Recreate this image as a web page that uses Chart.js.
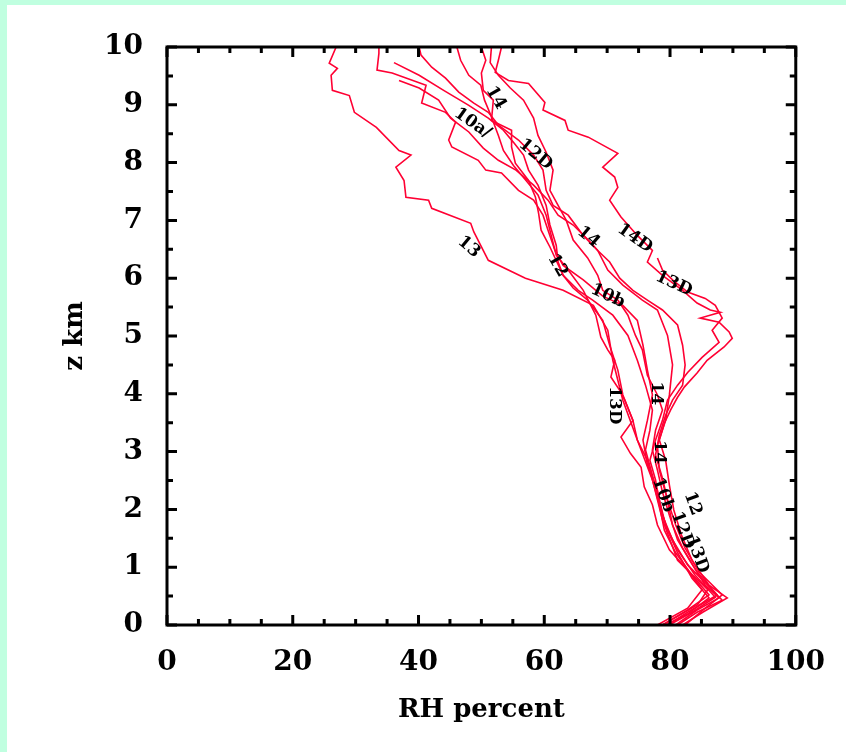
<!DOCTYPE html>
<html>
<head>
<meta charset="utf-8">
<script src="https://cdn.jsdelivr.net/npm/chart.js@4.4.1/dist/chart.umd.min.js"></script>
<style>
  html, body { margin: 0; padding: 0; background: #c0ffe0; }
  #wrap { width: 846px; height: 752px; }
</style>
</head>
<body>
<div id="wrap"><canvas id="rhChart" width="846" height="752"></canvas></div>
<script>
// RH profiles, z (km) and RH (percent)
const z13 = [10.0, 9.72, 9.63, 9.51, 9.25, 9.16, 8.87, 8.61, 8.21, 8.13, 7.92, 7.69, 7.40, 7.35, 7.21, 6.95, 6.80, 6.31, 6.00, 5.79, 5.53, 5.10, 4.58, 3.89, 3.20, 2.51, 1.82, 1.12, 0.61, 0.35, 0];
const rh13 = [26.9, 25.8, 27.1, 26.1, 26.3, 29.0, 29.8, 33.3, 36.9, 38.8, 36.4, 37.7, 38.0, 41.6, 42.1, 48.3, 48.8, 51.1, 57.0, 63.0, 67.8, 70.1, 70.9, 72.5, 74.8, 77.2, 78.8, 81.2, 86.0, 84.4, 78.8];

const z10a = [10.0, 9.89, 9.60, 9.55, 9.34, 9.03, 8.87, 8.70, 8.39, 8.27, 8.04, 7.87, 7.82, 7.52, 7.35, 7.09, 6.83, 6.48, 6.22, 5.97, 5.69, 5.53, 5.27, 4.84, 4.41, 3.98, 3.54, 3.20, 2.77, 2.33, 1.90, 1.47, 1.04, 0.61, 0.43, 0.22, 0];
const rh10a = [33.7, 33.7, 33.4, 35.8, 41.2, 40.5, 44.3, 45.9, 44.8, 45.3, 49.5, 50.7, 53.2, 55.9, 58.3, 59.8, 60.6, 61.7, 63.0, 66.2, 69.3, 72.5, 74.8, 75.7, 76.4, 77.2, 76.4, 75.7, 76.4, 78.0, 78.8, 80.4, 82.8, 86.7, 88.3, 84.3, 81.2];

const z12D = [10.0, 9.86, 9.65, 9.46, 9.22, 9.03, 8.87, 8.65, 8.39, 8.13, 7.87, 7.52, 7.26, 7.09, 6.74, 6.48, 6.14, 5.88, 5.62, 5.45, 5.01, 4.50, 3.98, 3.54, 3.11, 2.68, 2.16, 1.73, 1.33, 0.92, 0.52, 0.22, 0];
const rh12D = [40.1, 40.4, 42.1, 44.3, 46.4, 48.8, 51.1, 52.7, 55.9, 58.3, 59.8, 60.3, 61.4, 63.8, 66.2, 68.5, 70.1, 72.5, 75.6, 78.0, 79.6, 80.4, 79.9, 79.3, 78.0, 78.3, 79.6, 80.4, 82.0, 84.3, 87.5, 82.8, 79.6];

const z14 = [10.0, 9.77, 9.55, 9.25, 9.08, 8.73, 8.56, 8.27, 7.99, 7.69, 7.40, 7.12, 6.83, 6.54, 6.05, 5.79, 5.62, 5.36, 5.01, 4.58, 4.15, 3.72, 3.37, 3.03, 2.59, 2.16, 1.73, 1.30, 0.86, 0.48, 0.22, 0];
const rh14 = [50.0, 50.7, 50.0, 50.3, 51.9, 51.6, 54.8, 54.8, 55.4, 57.5, 58.6, 59.1, 59.5, 60.9, 63.0, 65.4, 67.7, 70.9, 73.3, 74.8, 76.1, 77.2, 76.8, 76.1, 77.2, 78.3, 79.3, 81.2, 84.0, 87.2, 83.5, 79.9];

const z14D = [10.0, 9.77, 9.56, 9.42, 9.37, 9.04, 8.91, 8.73, 8.56, 8.44, 8.16, 7.92, 7.75, 7.57, 7.35, 7.06, 6.74, 6.48, 6.28, 6.05, 5.79, 5.57, 5.45, 5.41, 5.31, 5.24, 5.07, 4.96, 4.81, 4.58, 4.36, 4.12, 3.94, 3.72, 3.49, 3.20, 2.85, 2.42, 1.99, 1.56, 1.12, 0.69, 0.47, 0.22, 0];
const rh14D = [53.2, 52.7, 52.2, 54.3, 57.5, 60.1, 59.8, 63.3, 63.8, 67.0, 71.7, 69.3, 71.2, 71.7, 70.4, 72.2, 74.8, 77.2, 76.4, 78.8, 82.0, 84.3, 86.4, 88.0, 84.8, 87.8, 89.4, 89.9, 88.6, 85.9, 84.3, 82.3, 81.2, 80.1, 79.1, 78.3, 79.3, 79.9, 80.6, 81.8, 83.5, 86.2, 89.1, 85.2, 82.0];

const z13D = [6.35, 6.14, 5.97, 5.76, 5.65, 5.53, 5.31, 5.10, 4.89, 4.63, 4.37, 4.15, 3.89, 3.54, 3.20, 2.85, 2.51, 2.08, 1.64, 1.25, 0.81, 0.47, 0.19, 0];
const rh13D = [78.0, 78.8, 80.4, 82.8, 85.6, 87.2, 88.3, 86.7, 87.8, 85.1, 82.8, 81.2, 79.6, 78.8, 77.7, 76.8, 77.7, 78.3, 79.6, 81.2, 83.5, 86.2, 82.8, 79.3];

const z11 = [10.0, 9.77, 9.51, 9.34, 9.08, 8.82, 8.47, 8.21, 7.95, 7.69, 7.44, 7.09, 6.74, 6.40, 6.14, 5.79, 5.36, 4.98, 4.76, 4.58, 4.29, 4.06, 3.89, 3.54, 3.25, 2.97, 2.73, 2.39, 2.08, 1.73, 1.30, 0.95, 0.61, 0.29, 0];
const rh11 = [46.1, 46.7, 48.0, 49.9, 50.5, 51.5, 52.7, 53.5, 55.1, 57.1, 59.0, 60.3, 61.1, 61.9, 63.8, 66.2, 68.2, 69.0, 70.1, 71.2, 70.6, 72.0, 72.8, 74.1, 72.2, 73.7, 75.4, 75.9, 77.2, 78.0, 79.9, 82.8, 85.1, 82.8, 78.0];

const z10b = [10.0, 9.73, 9.51, 9.29, 9.08, 8.77, 8.47, 8.18, 7.87, 7.52, 7.26, 7.00, 6.66, 6.35, 6.05, 5.79, 5.62, 5.36, 5.01, 4.76, 4.32, 3.98, 3.72, 3.37, 3.03, 2.68, 2.30, 1.90, 1.47, 1.09, 0.69, 0.47, 0.26, 0];
const rh10b = [51.6, 51.4, 52.7, 54.6, 56.7, 58.3, 59.0, 60.3, 61.4, 60.9, 62.2, 63.5, 64.6, 66.9, 68.5, 69.3, 71.7, 73.3, 74.5, 75.6, 76.4, 78.0, 78.8, 77.7, 77.2, 78.0, 78.8, 79.9, 81.2, 83.3, 85.6, 87.8, 84.3, 80.9];

const z12 = [9.73, 9.51, 9.25, 8.99, 8.77, 8.56, 8.35, 8.13, 7.87, 7.61, 7.26, 6.92, 6.57, 6.28, 6.05, 5.83, 5.62, 5.27, 4.84, 4.41, 3.98, 3.54, 3.20, 2.85, 2.51, 2.08, 1.64, 1.25, 0.86, 0.52, 0.26, 0];
const rh12 = [36.1, 40.1, 44.0, 48.0, 51.1, 53.5, 55.1, 56.7, 57.5, 59.0, 60.3, 60.9, 61.9, 62.2, 63.0, 64.6, 66.9, 69.3, 70.4, 71.7, 72.5, 74.1, 74.8, 76.4, 77.2, 78.3, 79.1, 80.9, 83.5, 86.2, 82.8, 78.8];

const z11D = [9.42, 9.29, 9.08, 8.77, 8.53, 8.25, 8.04, 7.87, 7.61, 7.35, 7.09, 6.92, 6.66, 6.48, 6.28, 6.00, 5.79, 5.62, 5.45, 5.19, 4.84, 4.50, 4.15, 3.89, 3.63, 3.29, 2.94, 2.54, 2.16, 1.73, 1.33, 0.92, 0.52, 0.29, 0];
const rh11D = [36.9, 40.1, 43.2, 45.1, 48.0, 50.3, 52.7, 55.5, 58.3, 60.6, 62.2, 64.6, 67.0, 68.5, 70.4, 72.0, 74.1, 76.4, 78.8, 81.2, 82.0, 82.4, 82.0, 80.4, 79.3, 78.3, 77.7, 78.8, 79.6, 80.9, 82.4, 84.6, 88.3, 85.6, 82.4];

const seriesNames = ["13", "10a", "12D", "14", "14D", "13D", "11", "10b", "12", "11D"];
const seriesZ = [z13, z10a, z12D, z14, z14D, z13D, z11, z10b, z12, z11D];
const seriesRH = [rh13, rh10a, rh12D, rh14, rh14D, rh13D, rh11, rh10b, rh12, rh11D];

// curve labels (text, position in RH / z, slant in degrees)
const labelText = ["14", "10a/", "12D", "13", "14", "12", "14D", "10b", "13D", "13D", "14", "14", "10b", "12", "12D", "13D"];
const labelRH = [52.3, 48.6, 58.6, 48.0, 67.0, 62.1, 74.4, 70.1, 80.6, 71.2, 77.8, 78.3, 78.9, 83.6, 82.0, 84.3];
const labelZ = [9.12, 8.68, 8.14, 6.54, 6.71, 6.22, 6.69, 5.69, 5.90, 3.80, 4.01, 2.99, 2.25, 2.10, 1.64, 1.22];
const labelAngle = [60, 35, 40, 40, 40, 60, 35, 25, 25, 90, 90, 90, 70, 70, 70, 70];

const xTicks = [0, 20, 40, 60, 80, 100];
const yTicks = [0, 1, 2, 3, 4, 5, 6, 7, 8, 9, 10];

const serif = "'DejaVu Serif', serif";

// white sheet, black frame with inward ticks on all sides
const frame = {
  id: "frame",
  beforeDraw(chart) {
    const ctx = chart.ctx;
    ctx.save();
    ctx.fillStyle = "#c0ffe0";
    ctx.fillRect(0, 0, chart.width, chart.height);
    ctx.fillStyle = "#ffffff";
    ctx.fillRect(7, 5, chart.width - 7, chart.height - 5);
    ctx.restore();
  },
  afterDatasetsDraw(chart) {
    const { ctx, chartArea: a, scales: { x, y } } = chart;
    ctx.save();
    ctx.strokeStyle = "#000";
    ctx.lineWidth = 3;
    ctx.beginPath();
    for (let v = 0; v <= 100; v += 5) {
      const px = x.getPixelForValue(v);
      const len = v % 20 === 0 ? 10 : 6;
      ctx.moveTo(px, a.bottom);
      ctx.lineTo(px, a.bottom - len);
      ctx.moveTo(px, a.top);
      ctx.lineTo(px, a.top + len);
    }
    for (let v = 0; v <= 10; v += 0.5) {
      const py = y.getPixelForValue(v);
      const len = v % 1 === 0 ? 10 : 6;
      ctx.moveTo(a.left, py);
      ctx.lineTo(a.left + len, py);
      ctx.moveTo(a.right, py);
      ctx.lineTo(a.right - len, py);
    }
    ctx.stroke();
    ctx.strokeRect(a.left, a.top, a.right - a.left, a.bottom - a.top);

    // labels on the curves
    ctx.fillStyle = "#000";
    ctx.font = "bold 17px " + serif;
    ctx.textAlign = "center";
    ctx.textBaseline = "middle";
    labelText.forEach((t, i) => {
      ctx.save();
      ctx.translate(x.getPixelForValue(labelRH[i]), y.getPixelForValue(labelZ[i]));
      ctx.rotate((labelAngle[i] * Math.PI) / 180);
      ctx.fillText(t, 0, 0);
      ctx.restore();
    });
    ctx.restore();
  },
};

new Chart(document.getElementById("rhChart"), {
  type: "line",

  data: {
    datasets: seriesNames.map((name, i) => ({
      label: name,
      data: seriesZ[i].map((z, k) => ({ x: seriesRH[i][k], y: z })),
      borderColor: "rgba(255,0,51,1)",
      borderWidth: 1.6,
      pointRadius: 0,
      tension: 0,
      fill: false,
    })),
  },

  options: {
    responsive: false,
    animation: false,
    layout: {
      padding: { top: 47, right: 47, bottom: 0, left: 0 },
    },
    plugins: {
      legend: { display: false },
      tooltip: { enabled: false },
    },
    scales: {
      x: {
        type: "linear",
        min: 0,
        max: 100,
        afterFit: function (scale) {
          scale.height = 127;
        },
        afterBuildTicks: function (scale) {
          scale.ticks = xTicks.map((v) => ({ value: v }));
        },
        grid: { display: false, drawTicks: false },
        border: { display: false },
        ticks: {
          color: "#000",
          padding: 21,
          maxRotation: 0,
          font: { family: serif, size: 28, weight: "bold" },
        },
        title: {
          display: true,
          text: "RH percent",
          color: "#000",
          padding: { top: 0, bottom: 26 },
          font: { family: serif, size: 26, weight: "bold" },
        },
      },
      y: {
        type: "linear",
        min: 0,
        max: 10,
        afterFit: function (scale) {
          scale.width = 167;
        },
        afterBuildTicks: function (scale) {
          scale.ticks = yTicks.map((v) => ({ value: v }));
        },
        grid: { display: false, drawTicks: false },
        border: { display: false },
        ticks: {
          color: "#000",
          padding: 24,
          font: { family: serif, size: 28, weight: "bold" },
        },
        title: {
          display: true,
          text: "z km",
          color: "#000",
          padding: { top: 60, bottom: 0 },
          font: { family: serif, size: 26, weight: "bold" },
        },
      },
    },
  },
  plugins: [frame],
});
</script>
</body>
</html>
